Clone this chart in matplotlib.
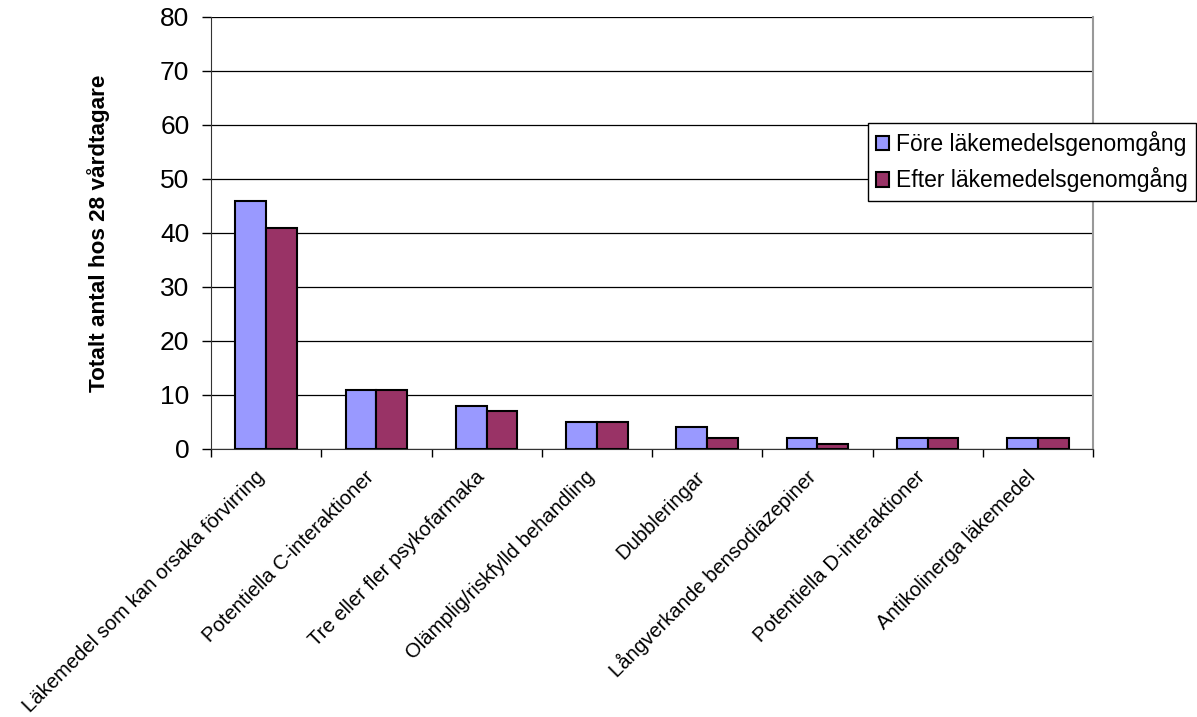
import matplotlib
matplotlib.use("Agg")
import matplotlib.pyplot as plt
import matplotlib.transforms as mtransforms
import numpy as np

categories = [
    "Läkemedel som kan orsaka förvirring",
    "Potentiella C-interaktioner",
    "Tre eller fler psykofarmaka",
    "Olämplig/riskfylld behandling",
    "Dubbleringar",
    "Långverkande bensodiazepiner",
    "Potentiella D-interaktioner",
    "Antikolinerga läkemedel",
]
fore = [46, 11, 8, 5, 4, 2, 2, 2]
efter = [41, 11, 7, 5, 2, 1, 2, 2]
series_names = ["Före läkemedelsgenomgång", "Efter läkemedelsgenomgång"]
yticks = [0, 10, 20, 30, 40, 50, 60, 70, 80]

plt.rcParams['font.family'] = ['Liberation Sans', 'DejaVu Sans']

fig = plt.figure(figsize=(11.97, 7.17), dpi=100)
ax = fig.add_axes([211/1197, 1-449/717, 882/1197, 432/717])

x = np.arange(len(categories))
w = 0.28
ax.bar(x - w/2, fore, w, color="#9999FF", edgecolor="black", linewidth=1.5, label=series_names[0], zorder=3)
ax.bar(x + w/2, efter, w, color="#993366", edgecolor="black", linewidth=1.5, label=series_names[1], zorder=3)

ax.set_xlim(-0.5, len(categories) - 0.5)
ax.set_ylim(0, 80)
ax.set_yticks(yticks)
ax.set_yticklabels([str(v) for v in yticks], fontsize=19)
ax.yaxis.grid(True, color="black", linewidth=0.9, zorder=0)
ax.set_axisbelow(True)

ax.set_xticks(x)
ax.set_xticklabels(categories, rotation=45, ha="right", va="center", rotation_mode="anchor", fontsize=14.6)
ax.tick_params(axis="x", length=0, pad=18)
offset = mtransforms.ScaledTranslation(-5/100, 0, fig.dpi_scale_trans)
for lbl in ax.get_xticklabels():
    lbl.set_transform(lbl.get_transform() + offset)
ax.set_xticks(np.arange(-0.5, len(categories)), minor=True)
ax.tick_params(axis="x", which="minor", length=6, width=1, direction="out")
ax.tick_params(axis="y", length=6.5, width=1, direction="out", pad=9)

ax.spines["top"].set_visible(False)
ax.spines["right"].set_color("#999999")
ax.spines["right"].set_linewidth(1.5)
ax.spines["left"].set_color("#333333")
ax.spines["bottom"].set_color("#333333")

ax.set_ylabel("Totalt antal hos 28 vårdtagare", fontsize=16.2, fontweight="bold", labelpad=36)

leg = fig.legend(loc="upper right", bbox_to_anchor=(1196/1197, 1-123/717), fontsize=16.5,
                 frameon=True, fancybox=False, edgecolor="black", framealpha=1,
                 handlelength=0.6, handleheight=0.6, handletextpad=0.3, borderpad=0.35,
                 borderaxespad=0.0, labelspacing=0.5)
leg.get_frame().set_linewidth(1.0)

fig.savefig("out.png", dpi=100)
